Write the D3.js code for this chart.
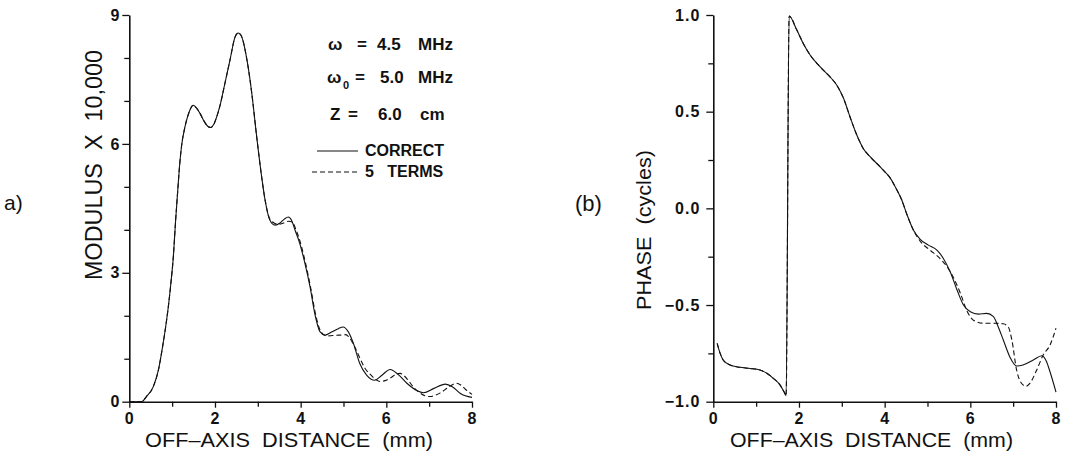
<!DOCTYPE html>
<html lang="en">
<meta charset="utf-8">
<head>
    <script src='https://d3js.org/d3.v7.min.js'></script>
    <style>
        body { margin: 0; background: #fff; }
        text { font-family: "Liberation Sans", Arial, sans-serif; fill: #111; white-space: pre; }
    </style>
</head>
<body>
<script>
    // (a) modulus x 10,000
    var modCorrectX = [0, 0.29, 0.40, 0.56, 0.68, 0.79, 0.85, 0.91, 0.97, 1.03, 1.08, 1.13, 1.17, 1.22, 1.30, 1.40, 1.49, 1.58, 1.65, 1.75, 1.83, 1.90, 1.97, 2.04, 2.12, 2.23, 2.35, 2.47, 2.54, 2.60, 2.66, 2.72, 2.78, 2.86, 2.97, 3.09, 3.17, 3.28, 3.40, 3.52, 3.62, 3.71, 3.79, 3.87, 3.98, 4.10, 4.22, 4.33, 4.45, 4.57, 4.72, 4.88, 4.99, 5.11, 5.23, 5.38, 5.54, 5.73, 5.89, 6.09, 6.28, 6.48, 6.71, 6.87, 7.11, 7.38, 7.54, 7.73, 8.0];
    var modCorrect = [0, 0, 0.12, 0.35, 0.74, 1.36, 1.75, 2.2, 2.75, 3.4, 4.2, 4.9, 5.45, 5.95, 6.4, 6.75, 6.9, 6.82, 6.71, 6.52, 6.41, 6.38, 6.45, 6.63, 6.9, 7.4, 7.95, 8.49, 8.58, 8.54, 8.38, 8.1, 7.75, 7.17, 6.2, 5.23, 4.69, 4.23, 4.11, 4.16, 4.25, 4.30, 4.22, 3.99, 3.68, 3.22, 2.67, 2.05, 1.63, 1.55, 1.62, 1.70, 1.74, 1.63, 1.36, 0.89, 0.62, 0.50, 0.61, 0.75, 0.63, 0.43, 0.26, 0.21, 0.31, 0.41, 0.35, 0.19, 0.10];

    var modFiveX = [0, 0.29, 0.40, 0.56, 0.68, 0.79, 0.85, 0.91, 0.97, 1.03, 1.08, 1.13, 1.17, 1.22, 1.30, 1.40, 1.49, 1.58, 1.65, 1.75, 1.83, 1.90, 1.97, 2.04, 2.12, 2.23, 2.35, 2.47, 2.54, 2.60, 2.66, 2.72, 2.78, 2.86, 2.97, 3.09, 3.17, 3.28, 3.40, 3.48, 3.60, 3.72, 3.80, 3.90, 4.00, 4.12, 4.24, 4.36, 4.48, 4.61, 4.75, 4.92, 5.05, 5.13, 5.25, 5.38, 5.50, 5.62, 5.75, 5.85, 5.97, 6.09, 6.20, 6.32, 6.42, 6.51, 6.65, 6.79, 6.90, 7.02, 7.14, 7.25, 7.37, 7.48, 7.64, 7.75, 7.88, 8.0];
    var modFive = [0, 0, 0.12, 0.35, 0.74, 1.36, 1.75, 2.2, 2.75, 3.4, 4.2, 4.9, 5.45, 5.95, 6.4, 6.75, 6.9, 6.82, 6.71, 6.52, 6.41, 6.38, 6.45, 6.63, 6.9, 7.4, 7.95, 8.49, 8.58, 8.54, 8.38, 8.1, 7.75, 7.17, 6.2, 5.23, 4.69, 4.25, 4.15, 4.13, 4.16, 4.20, 4.18, 3.98, 3.68, 3.2, 2.62, 1.98, 1.62, 1.53, 1.54, 1.55, 1.56, 1.50, 1.30, 1.02, 0.78, 0.64, 0.52, 0.47, 0.49, 0.55, 0.62, 0.66, 0.60, 0.50, 0.32, 0.20, 0.14, 0.12, 0.15, 0.20, 0.28, 0.36, 0.43, 0.38, 0.26, 0.17];

    // (b) phase in cycles
    var phaseCorrectX = [0.09, 0.16, 0.23, 0.39, 0.62, 0.86, 1.09, 1.25, 1.40, 1.56, 1.67, 1.70, 1.77, 1.95, 2.10, 2.26, 2.49, 2.72, 2.88, 3.04, 3.19, 3.35, 3.50, 3.66, 3.89, 4.00, 4.12, 4.25, 4.40, 4.51, 4.67, 4.83, 5.02, 5.22, 5.37, 5.53, 5.69, 5.84, 6.00, 6.19, 6.38, 6.54, 6.65, 6.77, 6.92, 7.08, 7.23, 7.47, 7.67, 7.78, 7.86, 8.0];
    var phaseCorrect = [-0.698, -0.75, -0.784, -0.81, -0.822, -0.828, -0.836, -0.853, -0.879, -0.914, -0.957, -0.969, 0.995, 0.922, 0.853, 0.793, 0.733, 0.681, 0.638, 0.569, 0.474, 0.379, 0.31, 0.267, 0.216, 0.19, 0.16, 0.11, 0.043, -0.026, -0.112, -0.160, -0.190, -0.216, -0.259, -0.328, -0.422, -0.50, -0.535, -0.547, -0.543, -0.560, -0.612, -0.681, -0.767, -0.815, -0.810, -0.784, -0.762, -0.793, -0.845, -0.95];

    var phaseFiveX = [0.09, 0.16, 0.23, 0.39, 0.62, 0.86, 1.09, 1.25, 1.40, 1.56, 1.67, 1.70, 1.77, 1.95, 2.10, 2.26, 2.49, 2.72, 2.88, 3.04, 3.19, 3.35, 3.50, 3.66, 3.89, 4.00, 4.12, 4.25, 4.40, 4.51, 4.67, 4.83, 5.06, 5.29, 5.45, 5.61, 5.77, 5.92, 6.08, 6.31, 6.54, 6.77, 6.89, 6.97, 7.08, 7.23, 7.30, 7.39, 7.55, 7.70, 7.86, 8.0];
    var phaseFive = [-0.698, -0.75, -0.784, -0.81, -0.822, -0.828, -0.836, -0.853, -0.879, -0.914, -0.957, -0.969, 0.995, 0.922, 0.853, 0.793, 0.733, 0.681, 0.638, 0.569, 0.474, 0.379, 0.31, 0.267, 0.216, 0.19, 0.16, 0.11, 0.043, -0.026, -0.112, -0.17, -0.216, -0.259, -0.30, -0.36, -0.44, -0.53, -0.58, -0.594, -0.594, -0.597, -0.615, -0.681, -0.836, -0.913, -0.92, -0.905, -0.836, -0.759, -0.707, -0.62];

    // ticks
    var xMajor = [0, 2, 4, 6, 8];
    var xMinor = [1, 3, 5, 7];
    var modMajor = [0, 3, 6, 9];
    var modMinor = [1, 2, 4, 5, 7, 8];
    var phaseMajor = [-1, -0.5, 0, 0.5, 1];
    var phaseMinor = [-0.75, -0.25, 0.25, 0.75];
    var phaseTickLabels = ["\u22121.0", "\u22120.5", "0.0", "0.5", "1.0"];

    var legendNames = ["CORRECT", "5   TERMS"];

    var W = 1069, H = 454;
    var svg = d3.select("body").append("svg")
        .attr("width", W)
        .attr("height", H);

    function panel(x0, x1, yDomain, major, minor, labels, tickPad) {
        var x = d3.scaleLinear().domain([0, 8]).range([x0, x1]);
        var y = d3.scaleLinear().domain(yDomain).range([401.7, 15]);

        // minor ticks
        svg.append("g")
            .attr("transform", "translate(0,401.7)")
            .call(d3.axisBottom(x).tickValues(xMinor).tickSize(5).tickFormat(""))
            .call(g => g.select(".domain").remove());
        svg.append("g")
            .attr("transform", "translate(" + x0 + ",0)")
            .call(d3.axisLeft(y).tickValues(minor).tickSize(5).tickFormat(""))
            .call(g => g.select(".domain").remove());

        // major ticks with labels
        var xa = svg.append("g")
            .attr("transform", "translate(0,401.7)")
            .call(d3.axisBottom(x).tickValues(xMajor).tickSize(6).tickSizeOuter(0).tickPadding(5));
        var ya = svg.append("g")
            .attr("transform", "translate(" + x0 + ",0)")
            .call(d3.axisLeft(y).tickValues(major).tickSize(7).tickSizeOuter(0).tickPadding(tickPad)
                .tickFormat(function(d, i) { return labels[i]; }));

        svg.selectAll("g.tick line").attr("stroke", "#111").attr("stroke-width", 1.3);
        [xa, ya].forEach(function(a) {
            a.select(".domain").attr("stroke", "#111").attr("stroke-width", 1.6);
            a.selectAll("text")
                .style("font-family", "'Liberation Sans', Arial, sans-serif")
                .style("font-size", "16px")
                .style("font-weight", "bold")
                .style("letter-spacing", "1px")
                .attr("fill", "#111");
        });

        return { x: x, y: y };
    }

    function curve(p, xs, ys, dashed) {
        var pts = xs.map(function(d, i) { return [d, ys[i]]; });
        var line = d3.line()
            .x(function(d) { return p.x(d[0]); })
            .y(function(d) { return p.y(d[1]); })
            .curve(d3.curveMonotoneX);
        svg.append("path")
            .datum(pts)
            .attr("d", line)
            .attr("fill", "none")
            .attr("stroke", "#111")
            .attr("stroke-width", 1.1)
            .attr("stroke-dasharray", dashed ? "5,3" : null);
    }

    // ---- left panel
    var a = panel(129.3, 472, [0, 9], modMajor, modMinor, modMajor.map(String), 2);
    curve(a, modFiveX, modFive, true);
    curve(a, modCorrectX, modCorrect, false);

    // ---- right panel
    var b = panel(713.3, 1056, [-1, 1], phaseMajor, phaseMinor, phaseTickLabels, 6);
    curve(b, phaseFiveX, phaseFive, true);
    curve(b, phaseCorrectX, phaseCorrect, false);

    // axis titles
    svg.append("text")
        .attr("x", 145).attr("y", 447)
        .attr("textLength", 288).attr("lengthAdjust", "spacingAndGlyphs")
        .style("font-size", "21px")
        .text("OFF\u2013AXIS  DISTANCE  (mm)");
    svg.append("text")
        .attr("x", 730).attr("y", 447)
        .attr("textLength", 283).attr("lengthAdjust", "spacingAndGlyphs")
        .style("font-size", "21px")
        .text("OFF\u2013AXIS  DISTANCE  (mm)");

    svg.append("text")
        .attr("transform", "translate(102,280) rotate(-90)")
        .attr("textLength", 230).attr("lengthAdjust", "spacingAndGlyphs")
        .style("font-size", "23px")
        .text("MODULUS  X  10,000");
    svg.append("text")
        .attr("transform", "translate(651,310) rotate(-90)")
        .attr("textLength", 160).attr("lengthAdjust", "spacingAndGlyphs")
        .style("font-size", "21px")
        .text("PHASE  (cycles)");

    // panel letters (the "(a)" is clipped at the page edge in the source)
    svg.append("text")
        .attr("x", 4).attr("y", 210)
        .style("font-size", "21px")
        .text("a)");
    svg.append("text")
        .attr("x", 575).attr("y", 211)
        .style("font-size", "22px")
        .text("(b)");

    // parameter block
    var params = [
        [[328, "\u03c9"], [357, "="], [377, "4.5"], [418, "MHz"]],
        [[327, "\u03c9"], [355, "="], [380, "5.0"], [418, "MHz"]],
        [[330, "Z"], [348, "="], [378, "6.0"], [420, "cm"]]
    ];
    var paramY = [50, 83, 120];
    params.forEach(function(row, i) {
        row.forEach(function(c) {
            svg.append("text")
                .attr("x", c[0]).attr("y", paramY[i])
                .style("font-size", "17px")
                .style("font-weight", "bold")
                .text(c[1]);
        });
    });
    svg.append("text")
        .attr("x", 343).attr("y", 89)
        .style("font-size", "11px")
        .style("font-weight", "bold")
        .text("0");

    // legend
    svg.append("line")
        .attr("x1", 317).attr("x2", 358).attr("y1", 151).attr("y2", 151)
        .attr("stroke", "#111").attr("stroke-width", 1.1);
    svg.append("line")
        .attr("x1", 312).attr("x2", 358).attr("y1", 172).attr("y2", 172)
        .attr("stroke", "#111").attr("stroke-width", 1.1).attr("stroke-dasharray", "5,3");
    svg.append("text")
        .attr("x", 365).attr("y", 156)
        .style("font-size", "16px").style("font-weight", "bold")
        .text(legendNames[0]);
    svg.append("text")
        .attr("x", 365).attr("y", 177)
        .style("font-size", "16px").style("font-weight", "bold")
        .text(legendNames[1]);
</script>
</body>
</html>
